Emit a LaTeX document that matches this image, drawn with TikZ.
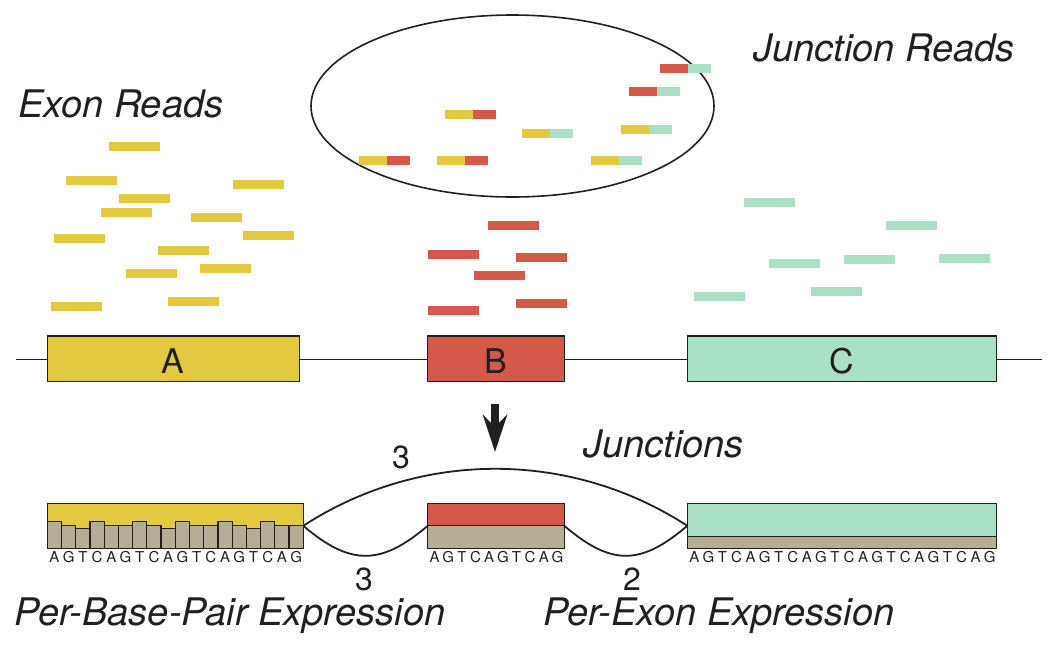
\documentclass[tikz,border=0pt]{standalone}
\usepackage{fontspec}
\setmainfont{TeX Gyre Heros}
\usetikzlibrary{positioning,shapes.geometric,arrows.meta}
\definecolor{exonyellow}{HTML}{E3C940}
\definecolor{exonred}{HTML}{D4594A}
\definecolor{exongreen}{HTML}{A9E0C6}
\definecolor{basetan}{HTML}{B5AD96}
\definecolor{inkdark}{HTML}{231F20}
\tikzset{
	read/.style={anchor=north west, inner sep=0pt, outer sep=0pt, minimum width=50.5pt, minimum height=8.7pt},
	genebox/.style={anchor=north west, draw=inkdark, line width=1.4pt, inner sep=0pt, outer sep=0pt},
	title/.style={anchor=base west, inner sep=0pt, font=\fontsize{38}{44}\selectfont\itshape, text=inkdark},
	count/.style={anchor=base, inner sep=0pt, font=\fontsize{32}{38}\selectfont, text=inkdark},
	basechar/.style={anchor=base, inner sep=0pt, font=\fontsize{15}{18}\selectfont, text=inkdark},
	junction/.style={draw=inkdark, line width=1.8pt},
}
\begin{document}
\begin{tikzpicture}[x=1pt, y=-1pt]
	\useasboundingbox (0,0) rectangle (1057,646);
	% titles
	\node[title] (exonreads) at (18,117) {Exon Reads};
	\node[title] (junctionreads) at (753,61) {Junction Reads};
	\node[title] (junctions) at (583,457) {Junctions};
	\node[title] (perbase) at (14,625) {Per-Base-Pair Expression};
	\node[title] (perexon) at (543,625) {Per-Exon Expression};

	% pool of junction reads
	\node[draw=inkdark, line width=1.6pt, ellipse, minimum width=403pt, minimum height=182pt] (pool) at (512.5,106) {};

	\begin{scope}[every node/.style={read, minimum width=27.5pt}]
		\node[fill=exonred] (jr1) at (660,64) {};
		\node[fill=exongreen, minimum width=23pt, right=0pt of jr1] (jg1) {};
		\node[fill=exonred] (jr2) at (629,87) {};
		\node[fill=exongreen, minimum width=23pt, right=0pt of jr2] (jg2) {};
		\node[fill=exonyellow] (jy3) at (445,110) {};
		\node[fill=exonred, minimum width=23pt, right=0pt of jy3] (jr3) {};
		\node[fill=exonyellow] (jy4) at (522,129) {};
		\node[fill=exongreen, minimum width=23.5pt, right=0pt of jy4] (jg4) {};
		\node[fill=exonyellow] (jy5) at (621,125) {};
		\node[fill=exongreen, minimum width=23pt, right=0pt of jy5] (jg5) {};
		\node[fill=exonyellow] (jy6) at (359,156) {};
		\node[fill=exonred, minimum width=23pt, right=0pt of jy6] (jr6) {};
		\node[fill=exonyellow] (jy7) at (437,156) {};
		\node[fill=exonred, minimum width=23.5pt, right=0pt of jy7] (jr7) {};
		\node[fill=exonyellow] (jy8) at (591,156) {};
		\node[fill=exongreen, minimum width=23pt, right=0pt of jy8] (jg8) {};
	\end{scope}

	% exon reads
	\begin{scope}[every node/.style={read, fill=exonyellow}]
		\node (ya1) at (109,142) {};
		\node (ya2) at (66,176) {};
		\node (ya3) at (233,180) {};
		\node (ya4) at (119,194) {};
		\node (ya5) at (101,208) {};
		\node (ya6) at (191,213) {};
		\node (ya7) at (243,231) {};
		\node (ya8) at (54,234) {};
		\node (ya9) at (158,246) {};
		\node (ya10) at (200,264) {};
		\node (ya11) at (126,269) {};
		\node (ya12) at (168,297) {};
		\node (ya13) at (51,302) {};
	\end{scope}
	\begin{scope}[every node/.style={read, fill=exonred}]
		\node (rb1) at (488,221) {};
		\node (rb2) at (428,250) {};
		\node (rb3) at (516,253) {};
		\node (rb4) at (474,271) {};
		\node (rb5) at (516,299) {};
		\node (rb6) at (428,306) {};
	\end{scope}
	\begin{scope}[every node/.style={read, fill=exongreen}]
		\node (gc1) at (744,198) {};
		\node (gc2) at (886,221) {};
		\node (gc3) at (769,259) {};
		\node (gc4) at (844,255) {};
		\node (gc5) at (939,254) {};
		\node (gc6) at (811,287) {};
		\node (gc7) at (694,292) {};
	\end{scope}

	% gene model
	\coordinate (lstart) at (16,359.5);
	\coordinate (lend) at (1042,359.5);
	\draw[inkdark, line width=1.3pt] (lstart) -- (lend);
	\begin{scope}[every node/.style={genebox, minimum height=45.3pt, text height=30.5pt, font=\fontsize{34}{40}\selectfont, text=inkdark}]
		\node[fill=exonyellow, minimum width=252pt] (A) at (47.3,336) {A};
		\node[fill=exonred, minimum width=136.6pt] (B) at (427.7,336) {B};
		\node[fill=exongreen, minimum width=309.4pt] (C) at (687.3,336) {C};
	\end{scope}

	\coordinate (arrtop) at (495,404);
	\coordinate (arrtip) at (495,452);
	\draw[inkdark, line width=8pt, -{Stealth[length=37pt, width=24pt, inset=12pt]}] (arrtop) -- (arrtip);

	% expression
	\begin{scope}[every node/.style={genebox, minimum height=45pt}]
		\node[fill=exonyellow, minimum width=256pt] (pbA) at (47.3,503.3) {};
		\node[fill=exonred, minimum width=136.6pt] (peB) at (427.7,503.3) {};
		\node[fill=exongreen, minimum width=309.4pt] (peC) at (687.3,503.3) {};
	\end{scope}
	\foreach \h [count=\i] in {521.7,525.7,528.3,521.7,525.7,525.7,521.7,525.7,528.3,521.7,525.7,525.7,521.7,525.7,528.3,521.7,525.7,525.7}
		\draw[fill=basetan, draw=inkdark, line width=1.2pt] ({47.3+14.222*(\i-1)},548.3) rectangle ({47.3+14.222*\i},\h);
	\node[genebox, fill=basetan, minimum width=136.6pt, minimum height=22.6pt, anchor=south west] (peBbase) at (peB.south west) {};
	\node[genebox, fill=basetan, minimum width=309.4pt, minimum height=12pt, anchor=south west] (peCbase) at (peC.south west) {};

	\foreach \l [count=\i] in {A,G,T,C,A,G,T,C,A,G,T,C,A,G,T,C,A,G}
		\node[basechar] (sa\i) at ({47.3+14.222*(\i-0.5)},562.5) {\l};
	\foreach \l [count=\i] in {A,G,T,C,A,G,T,C,A,G}
		\node[basechar] (sb\i) at ({427.7+13.66*(\i-0.5)},562.5) {\l};
	\foreach \l [count=\i] in {A,G,T,C,A,G,T,C,A,G,T,C,A,G,T,C,A,G,T,C,A,G}
		\node[basechar] (sc\i) at ({687.3+14.064*(\i-0.5)},562.5) {\l};

	% junction arcs
	\draw[junction] (pbA.east) .. controls +(117,-76) and +(-117,-76) .. (peC.west);
	\draw[junction] (pbA.east) .. controls +(47,40) and +(-47,40) .. (peB.west);
	\draw[junction] (peB.east) .. controls +(47,40) and +(-47,40) .. (peC.west);
	\node[count] (skipcount) at (401,468.5) {3};
	\node[count] (abcount) at (364,590) {3};
	\node[count] (bccount) at (632,590) {2};
\end{tikzpicture}
\end{document}
